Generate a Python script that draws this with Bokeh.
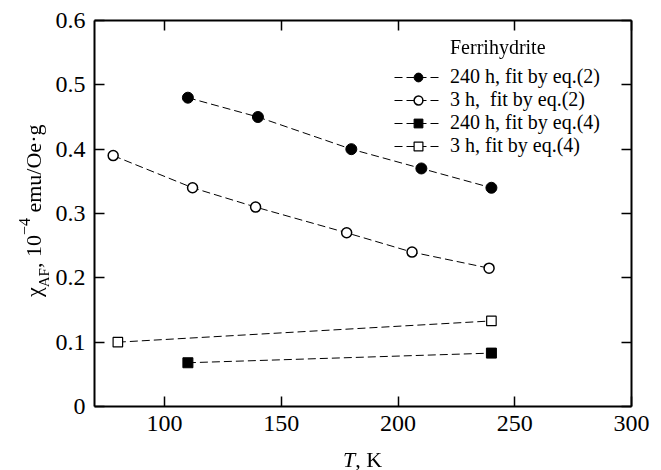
from bokeh.plotting import figure
from bokeh.models import (Range1d, LinearAxis, FixedTicker, NumeralTickFormatter,
                          CustomJSTickFormatter, Legend, LegendItem, Div)
from bokeh.embed import file_html
from bokeh.resources import INLINE

# ---- data ----
T_240_eq2 = [110, 140, 180, 210, 240]
chi_240_eq2 = [0.480, 0.450, 0.400, 0.370, 0.340]

T_3_eq2 = [78, 112, 139, 178, 206, 239]
chi_3_eq2 = [0.390, 0.340, 0.310, 0.270, 0.240, 0.215]

T_240_eq4 = [110, 240]
chi_240_eq4 = [0.068, 0.083]

T_3_eq4 = [80, 240]
chi_3_eq4 = [0.100, 0.133]

x_ticks = [100, 150, 200, 250, 300]
y_ticks = [0, 0.1, 0.2, 0.3, 0.4, 0.5, 0.6]

labels = ["240 h, fit by eq.(2)", "3 h,  fit by eq.(2)",
          "240 h, fit by eq.(4)", "3 h, fit by eq.(4)"]
legend_title = "Ferrihydrite"

FONT = "Liberation Serif"
CSS_FONT = "'Liberation Serif', 'Times New Roman', serif"

# layout (page pixels of the plotting frame)
OX, OY = 2, 1                      # where the canvas lands on the page
FRAME_L, FRAME_T = 96, 21
FRAME_W, FRAME_H = 537, 386
BL, BT, BR = FRAME_L - OX, FRAME_T - OY, 20
H = 468
W = BL + FRAME_W + BR
BB = H - BT - FRAME_H
FRAME_B = FRAME_T + FRAME_H

p = figure(width=W, height=H, output_backend="svg", toolbar_location=None,
           x_range=Range1d(70, 300), y_range=Range1d(0, 0.6),
           min_border_left=BL, min_border_right=BR, min_border_top=BT,
           min_border_bottom=BB, x_axis_location=None, y_axis_location=None)
p.grid.visible = False
p.outline_line_color = None
p.background_fill_color = "white"
p.border_fill_color = "white"

def make_axis(ticks, show_labels, fmt=None):
    ax = LinearAxis(ticker=FixedTicker(ticks=ticks),
                    major_label_text_font=FONT,
                    major_label_text_font_size="24px",
                    major_label_text_color="black")
    ax.axis_line_width = 2
    ax.axis_line_color = "black"
    ax.major_tick_in = 10
    ax.major_tick_out = 0
    ax.major_tick_line_width = 1.5
    ax.minor_tick_line_color = None
    if fmt is not None:
        ax.formatter = fmt
    if not show_labels:
        ax.formatter = CustomJSTickFormatter(code="return ''")
        ax.major_label_standoff = 0
    return ax

bottom = make_axis(x_ticks, True)
bottom.major_label_standoff = 9
left = make_axis(y_ticks, True, NumeralTickFormatter(format="0.[0]"))
left.major_label_standoff = 9
top = make_axis(x_ticks, False)
right = make_axis(y_ticks, False)
p.add_layout(bottom, "below")
p.add_layout(left, "left")
p.add_layout(top, "above")
p.add_layout(right, "right")

DASH = "8 4"
l1 = p.line(T_240_eq2, chi_240_eq2, line_color="black", line_width=1, line_dash=DASH)
s1 = p.scatter(T_240_eq2, chi_240_eq2, marker="circle", size=11,
               fill_color="black", line_color="black")
l2 = p.line(T_3_eq2, chi_3_eq2, line_color="black", line_width=1, line_dash=DASH)
s2 = p.scatter(T_3_eq2, chi_3_eq2, marker="circle", size=10,
               fill_color="white", line_color="black", line_width=1.5)
l3 = p.line(T_240_eq4, chi_240_eq4, line_color="black", line_width=1, line_dash=DASH)
s3 = p.scatter(T_240_eq4, chi_240_eq4, marker="square", size=10,
               fill_color="black", line_color="black")
l4 = p.line(T_3_eq4, chi_3_eq4, line_color="black", line_width=1, line_dash=DASH)
s4 = p.scatter(T_3_eq4, chi_3_eq4, marker="square", size=9.5,
               fill_color="white", line_color="black", line_width=1.2)

# legend: glyphs from page x 395, rows centred at page y 78, 100, 123, 145
legend = Legend(items=[LegendItem(label=labels[0], renderers=[l1, s1]),
                       LegendItem(label=labels[1], renderers=[l2, s2]),
                       LegendItem(label=labels[2], renderers=[l3, s3]),
                       LegendItem(label=labels[3], renderers=[l4, s4])],
                location=(396 - FRAME_L, FRAME_B - 158), padding=0, margin=0,
                spacing=0, glyph_width=48, glyph_height=22, label_height=22,
                label_standoff=8, border_line_color=None,
                background_fill_alpha=0,
                label_text_font=FONT, label_text_font_size="20px",
                label_text_color="black")
p.add_layout(legend, "center")

# legend title and axis titles as HTML text placed on the page
t_html = (f'<div style="font-family:{CSS_FONT};font-size:20px;line-height:20px;'
          f'white-space:nowrap;color:black">{legend_title}</div>')
tlab = Div(text=t_html, styles={"position": "fixed", "left": "450px",
                                "top": "37px", "margin": "0", "padding": "0"})

y_html = (f'<div style="font-family:{CSS_FONT};font-size:22px;line-height:22px;'
          f'white-space:nowrap;color:black">χ'
          f'<span style="position:relative;top:8px;font-size:15px">AF</span>, 10'
          f'<span style="position:relative;top:-11px;font-size:16px">−4</span>'
          f' emu/Oe·g</div>')
ylab = Div(text=y_html, styles={"position": "fixed", "left": "22.6px",
                                "top": "297px", "transform": "rotate(-90deg)",
                                "transform-origin": "left top", "margin": "0",
                                "padding": "0"})
x_html = (f'<div style="font-family:{CSS_FONT};font-size:22px;line-height:18px;'
          f'white-space:nowrap;color:black"><i>T</i>, K</div>')
xlab = Div(text=x_html, styles={"position": "fixed", "left": "343px",
                                "top": "450.5px", "margin": "0",
                                "padding": "0"})

open("out.html", "w").write(file_html([p, ylab, xlab, tlab], INLINE))
